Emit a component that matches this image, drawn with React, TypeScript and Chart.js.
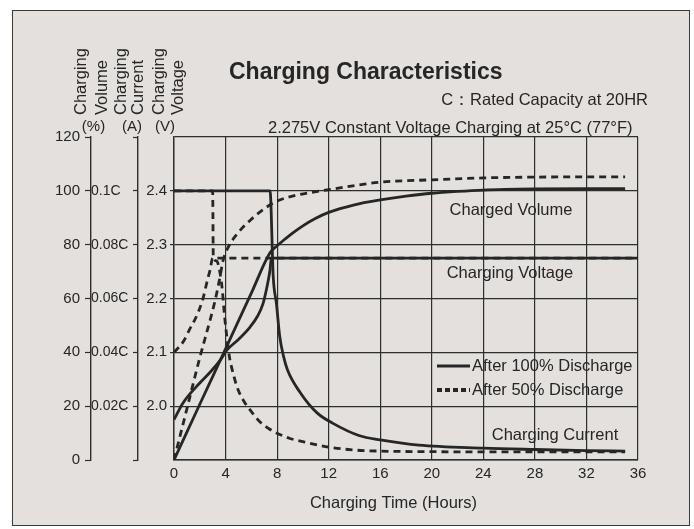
import React, { useEffect, useRef } from 'react';
import { Chart, registerables } from 'chart.js';

Chart.register(...registerables);

const FONT = "'Liberation Sans', Arial, Helvetica, sans-serif";
const INK = '#262626';
const LINE = '#2e2e2e';
const PAPER = '#e3e0dd';

// ---- tick labels ----
const hourTickLabels = ['0', '4', '8', '12', '16', '20', '24', '28', '32', '36'];
const percentTickLabels = ['0', '20', '40', '60', '80', '100', '120'];
const currentTickLabels = ['', '0.02C', '0.04C', '0.06C', '0.08C', '0.1C', ''];
const voltageTickLabels = ['', '2.0', '2.1', '2.2', '2.3', '2.4', ''];

// ---- Charged volume (%) ----
const volume100Hours = [0, 2, 4, 6, 7.45, 8.0, 8.6, 9.2, 10, 11, 12, 14, 16, 18, 20, 22, 24, 28, 32, 35];
const volume100Pct = [0, 20.7, 41.3, 62, 77, 79.6, 82, 84.3, 87, 89.8, 92, 94.8, 96.6, 98, 99.1, 99.8, 100.3, 100.7, 100.8, 100.8];
const volume50Hours = [0, 1, 2, 2.8, 3.2, 3.57, 3.8, 4.2, 4.9, 5.9, 7.2, 8.2, 9.5, 12, 16, 20, 24, 28, 35];
const volume50Pct = [0, 19, 38, 52, 59.5, 68, 74, 79, 84, 89, 94, 96.6, 98.4, 100.4, 103.2, 104.1, 104.8, 105.1, 105.2];

// ---- Charging voltage (V) ----
const voltage100Hours = [0, 0.7, 2.0, 2.8, 3.6, 4.1, 5.0, 5.9, 6.5, 6.9, 7.2, 7.45, 7.55, 36];
const voltage100V = [1.975, 2.006, 2.043, 2.063, 2.086, 2.104, 2.124, 2.147, 2.168, 2.19, 2.22, 2.253, 2.275, 2.275];
const voltage50Hours = [0, 0.7, 1.2, 1.8, 2.25, 2.6, 2.8, 3.0, 36];
const voltage50V = [2.1, 2.119, 2.142, 2.17, 2.2, 2.235, 2.253, 2.275, 2.275];

// ---- Charging current (C) ----
const current100Hours = [0, 7.45, 7.7, 7.95, 8.2, 8.5, 8.8, 9.8, 11.1, 12.3, 14.4, 16, 19, 24, 28, 32, 35];
const current100C = [0.1, 0.1, 0.068, 0.058, 0.046, 0.0385, 0.0335, 0.025, 0.0175, 0.0137, 0.009, 0.0075, 0.0055, 0.0044, 0.0039, 0.0035, 0.0033];
const current50Hours = [0, 3.0, 3.05, 3.3, 3.6, 3.75, 3.9, 4.1, 4.3, 4.6, 4.9, 5.4, 5.9, 6.6, 7.4, 8.2, 9, 10, 12, 14, 16, 20, 24, 28, 32, 35];
const current50C = [0.1, 0.1, 0.075, 0.074, 0.0687, 0.063, 0.0546, 0.0457, 0.0383, 0.032, 0.027, 0.022, 0.0186, 0.0145, 0.0115, 0.0095, 0.008, 0.0068, 0.0048, 0.0037, 0.0033, 0.0031, 0.003, 0.003, 0.003, 0.003];

const pts = (xs: number[], ys: number[]) => xs.map((x, i) => ({ x, y: ys[i] }));

const textPlugin = {
  id: 'sheetText',
  beforeDraw(chart: any) {
    const ctx = chart.ctx;
    ctx.save();
    ctx.fillStyle = '#ffffff';
    ctx.fillRect(0, 0, chart.width, chart.height);
    ctx.fillStyle = PAPER;
    ctx.fillRect(12, 10, 678, 516);
    ctx.strokeStyle = '#3a3a3a';
    ctx.lineWidth = 1;
    ctx.strokeRect(12.5, 10.5, 677, 515);
    ctx.restore();
  },
  afterDraw(chart: any) {
    const ctx = chart.ctx;
    ctx.save();
    ctx.fillStyle = INK;
    // title
    ctx.font = `bold 23px ${FONT}`;
    ctx.textAlign = 'left';
    ctx.textBaseline = 'alphabetic';
    ctx.fillText('Charging Characteristics', 229, 79);
    ctx.font = `16.5px ${FONT}`;
    ctx.textAlign = 'right';
    ctx.fillText('C：Rated Capacity at 20HR', 648, 105);
    ctx.textAlign = 'left';
    ctx.fillText('2.275V Constant Voltage Charging at 25°C (77°F)', 268, 133);

    // rotated axis headers
    const vtext = (t: string, x: number, y: number) => {
      ctx.save();
      ctx.translate(x, y);
      ctx.rotate(-Math.PI / 2);
      ctx.textAlign = 'left';
      ctx.textBaseline = 'alphabetic';
      ctx.fillText(t, 0, 0);
      ctx.restore();
    };
    ctx.font = `16.5px ${FONT}`;
    vtext('Charging', 86, 115);
    vtext('Volume', 106.5, 115);
    vtext('Charging', 126, 115);
    vtext('Current', 143, 115);
    vtext('Charging', 164, 115);
    vtext('Voltage', 183, 115);
    ctx.font = `15px ${FONT}`;
    ctx.textAlign = 'center';
    ctx.textBaseline = 'middle';
    ctx.fillText('(%)', 93.5, 127);
    ctx.fillText('(A)', 132, 127);
    ctx.fillText('(V)', 165, 127);

    // in-plot labels
    ctx.font = `16.5px ${FONT}`;
    ctx.fillText('Charged Volume', 511, 210);
    ctx.fillText('Charging Voltage', 510, 273);
    ctx.fillText('Charging Current', 555, 435);

    // x axis title
    ctx.fillText('Charging Time (Hours)', 393.5, 503);

    // legend
    ctx.textAlign = 'left';
    ctx.fillText('After 100% Discharge', 472, 366);
    ctx.fillText('After 50% Discharge', 472, 390);
    ctx.strokeStyle = INK;
    ctx.lineWidth = 3;
    ctx.beginPath();
    ctx.moveTo(437, 366);
    ctx.lineTo(470, 366);
    ctx.stroke();
    ctx.lineWidth = 4;
    ctx.setLineDash([5, 3]);
    ctx.beginPath();
    ctx.moveTo(437, 390);
    ctx.lineTo(470, 390);
    ctx.stroke();
    ctx.restore();
  },
};

export default function App() {
  const ref = useRef<HTMLCanvasElement | null>(null);

  useEffect(() => {
    if (!ref.current) return;
    const solid = {
      borderColor: INK,
      borderWidth: 2.8,
      pointRadius: 0,
      fill: false,
      cubicInterpolationMode: 'monotone' as const,
    };
    const dashed = { ...solid, borderDash: [7, 5] };
    const tickFont = { family: FONT, size: 15 };

    const chart = new Chart(ref.current, {
      type: 'line',
      data: {
        datasets: [
          { ...solid, label: 'Charged Volume (100%)', yAxisID: 'yPct', data: pts(volume100Hours, volume100Pct) },
          { ...dashed, label: 'Charged Volume (50%)', yAxisID: 'yPct', data: pts(volume50Hours, volume50Pct) },
          { ...solid, label: 'Charging Voltage (100%)', yAxisID: 'yVolt', data: pts(voltage100Hours, voltage100V) },
          { ...dashed, label: 'Charging Voltage (50%)', yAxisID: 'yVolt', data: pts(voltage50Hours, voltage50V) },
          { ...solid, label: 'Charging Current (100%)', yAxisID: 'yCur', data: pts(current100Hours, current100C) },
          { ...dashed, label: 'Charging Current (50%)', yAxisID: 'yCur', data: pts(current50Hours, current50C) },
        ] as any,
      },
      options: {
        responsive: false,
        animation: false,
        layout: { padding: { left: 12, right: 56, top: 137, bottom: 0 } },
        plugins: {
          legend: { display: false },
          tooltip: { enabled: false },
          title: { display: false },
        },
        scales: {
          x: {
            type: 'linear',
            min: 0,
            max: 36,
            ticks: {
              stepSize: 4,
              padding: 5,
              autoSkip: false,
              maxRotation: 0,
              color: INK,
              font: tickFont,
              callback: (_v: any, i: number) => hourTickLabels[i],
            },
            grid: { color: LINE, lineWidth: 1.2, drawTicks: false },
            border: { display: true, color: LINE, width: 1.4 },
            afterFit: (s: any) => { s.height = 69; },
          },
          yPct: {
            position: 'left',
            weight: 3,
            min: 0,
            max: 120,
            ticks: {
              stepSize: 20,
              padding: 5,
              autoSkip: false,
              color: INK,
              font: tickFont,
              callback: (_v: any, i: number) => percentTickLabels[i],
            },
            grid: { drawOnChartArea: false, drawTicks: true, tickLength: 6, tickColor: LINE, tickWidth: 1.2 },
            border: { display: true, color: LINE, width: 1.4 },
            afterFit: (s: any) => { s.width = 79; },
          },
          yCur: {
            position: 'left',
            weight: 2,
            min: 0,
            max: 0.12,
            ticks: {
              stepSize: 0.02,
              padding: 0,
              crossAlign: 'far',
              autoSkip: false,
              color: INK,
              font: { family: FONT, size: 14 },
              callback: (_v: any, i: number) => currentTickLabels[i],
            },
            grid: { drawOnChartArea: false, drawTicks: true, tickLength: 5, tickColor: LINE, tickWidth: 1.2 },
            border: { display: true, color: LINE, width: 1.4 },
            afterFit: (s: any) => { s.width = 47; },
          },
          yVolt: {
            position: 'left',
            weight: 1,
            min: 1.9,
            max: 2.5,
            ticks: {
              stepSize: 0.1,
              padding: 3,
              autoSkip: false,
              color: INK,
              font: tickFont,
              callback: (_v: any, i: number) => voltageTickLabels[i],
            },
            grid: {
              drawOnChartArea: true,
              drawTicks: true,
              tickLength: 4,
              color: LINE,
              lineWidth: 1.2,
              tickWidth: 1.2,
              tickColor: (c: any) => (c.index === 0 || c.index === 6 ? 'rgba(0,0,0,0)' : LINE),
            },
            border: { display: true, color: LINE, width: 1.4 },
            afterFit: (s: any) => { s.width = 36; },
          },
        },
      } as any,
      plugins: [textPlugin],
    });
    return () => chart.destroy();
  }, []);

  return (
    <div style={{ position: 'absolute', left: 0, top: 0, width: 694, height: 529 }}>
      <canvas ref={ref} width={694} height={529} style={{ width: 694, height: 529, display: 'block' }} />
    </div>
  );
}
